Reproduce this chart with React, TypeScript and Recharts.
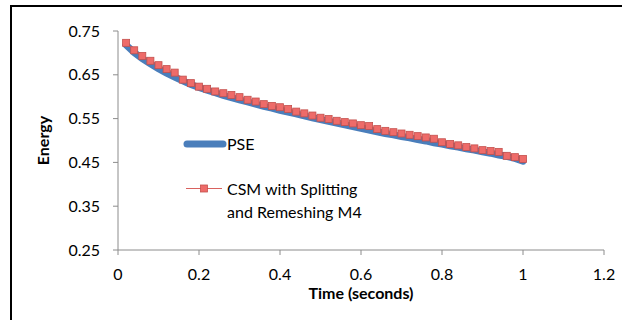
import { Legend, Line, LineChart, XAxis, YAxis } from "recharts";

const times = [
  0.02, 0.04, 0.06, 0.08, 0.1, 0.12, 0.14, 0.16, 0.18, 0.2,
  0.22, 0.24, 0.26, 0.28, 0.3, 0.32, 0.34, 0.36, 0.38, 0.4,
  0.42, 0.44, 0.46, 0.48, 0.5, 0.52, 0.54, 0.56, 0.58, 0.6,
  0.62, 0.64, 0.66, 0.68, 0.7, 0.72, 0.74, 0.76, 0.78, 0.8,
  0.82, 0.84, 0.86, 0.88, 0.9, 0.92, 0.94, 0.96, 0.98, 1.0
];

const pseEnergy = [
  0.718, 0.701, 0.687, 0.675, 0.664, 0.654, 0.645, 0.636, 0.628, 0.621,
  0.615, 0.609, 0.603, 0.598, 0.593, 0.588, 0.583, 0.578, 0.574, 0.569,
  0.565, 0.561, 0.556, 0.552, 0.548, 0.544, 0.54, 0.536, 0.532, 0.528,
  0.524, 0.52, 0.516, 0.513, 0.509, 0.506, 0.502, 0.499, 0.495, 0.492,
  0.488, 0.485, 0.481, 0.478, 0.474, 0.471, 0.467, 0.464, 0.459, 0.453
];

const csmEnergy = [
  0.723, 0.706, 0.693, 0.682, 0.672, 0.663, 0.655, 0.639, 0.631, 0.623,
  0.618, 0.612, 0.608, 0.604, 0.599, 0.593, 0.589, 0.583, 0.579, 0.576,
  0.572, 0.566, 0.562, 0.557, 0.552, 0.549, 0.545, 0.542, 0.539, 0.535,
  0.533, 0.526, 0.522, 0.519, 0.516, 0.513, 0.51, 0.507, 0.504, 0.496,
  0.492, 0.489, 0.485, 0.482, 0.478, 0.476, 0.474, 0.465, 0.462, 0.458
];

const yTicks = [0.25, 0.35, 0.45, 0.55, 0.65, 0.75];
const xTicks = [0, 0.2, 0.4, 0.6, 0.8, 1, 1.2];

const data = times.map((t, i) => ({ t, pse: pseEnergy[i], csm: csmEnergy[i] }));

const FONT = "Lato, 'Liberation Sans', sans-serif";
const BLUE = "#4A7EBB";
const RED_FILL = "#EE6B69";
const RED_LINE = "#D9625F";
const RED_EDGE = "#C4504D";
const AXIS = "#8c8c8c";

function SquareDot(props: any) {
  const { cx, cy } = props;
  if (cx == null || cy == null) return null;
  return (
    <rect
      x={cx - 3.5}
      y={cy - 3.5}
      width={7}
      height={7}
      fill={RED_FILL}
      stroke={RED_EDGE}
      strokeWidth={0.8}
    />
  );
}

function ChartLegend() {
  return (
    <div style={{ fontFamily: FONT, fontSize: 16, color: "#000", lineHeight: "23px", textAlign: "left" }}>
      <div style={{ display: "flex", alignItems: "center", height: 23 }}>
        <svg width={44} height={10}>
          <line x1={4} y1={5} x2={40} y2={5} stroke={BLUE} strokeWidth={7} strokeLinecap="round" />
        </svg>
        <span>PSE</span>
      </div>
      <div style={{ display: "flex", alignItems: "flex-start", marginTop: 22 }}>
        <svg width={44} height={23}>
          <line x1={3} y1={11.5} x2={39} y2={11.5} stroke={RED_LINE} strokeWidth={1} />
          <rect x={17.5} y={8} width={7} height={7} fill={RED_FILL} stroke={RED_EDGE} strokeWidth={0.8} />
        </svg>
        <span style={{ maxWidth: 150 }}>CSM with Splitting and Remeshing M4</span>
      </div>
    </div>
  );
}

export default function App() {
  return (
    <div
      style={{
        position: "absolute",
        left: 0,
        top: 0,
        width: 622,
        height: 320,
        background: "#fff",
        overflow: "hidden"
      }}
    >
      <div
        style={{
          position: "absolute",
          left: 10,
          top: 5,
          width: 700,
          height: 400,
          border: "2px solid #000"
        }}
      />
      <LineChart
        width={622}
        height={320}
        data={data}
        margin={{ top: 31, right: 18, left: 20, bottom: 40 }}
        style={{ position: "absolute", left: 0, top: 0 }}
      >
        <XAxis
          type="number"
          dataKey="t"
          domain={[0, 1.2]}
          ticks={xTicks}
          height={30}
          stroke={AXIS}
          tickSize={5}
          tickMargin={14}
          tick={{ fill: "#000", fontSize: 16, fontFamily: FONT }}
          label={{
            value: "Time (seconds)",
            position: "bottom",
            offset: 8,
            style: { fill: "#000", fontSize: 16, fontWeight: 700, fontFamily: FONT }
          }}
        />
        <YAxis
          type="number"
          domain={[0.25, 0.75]}
          ticks={yTicks}
          width={98}
          stroke={AXIS}
          tickSize={5}
          tickMargin={13}
          tickFormatter={(v: number) => v.toFixed(2)}
          tick={{ fill: "#000", fontSize: 16, fontFamily: FONT }}
          label={{
            value: "Energy",
            angle: -90,
            position: "insideLeft",
            offset: 23,
            style: { fill: "#000", fontSize: 16, fontWeight: 700, fontFamily: FONT, textAnchor: "middle" }
          }}
        />
        <Legend
          layout="horizontal"
          verticalAlign="middle"
          align="center"
          content={() => <ChartLegend />}
          wrapperStyle={{ left: 183, top: 132, width: 220 }}
        />
        <Line
          dataKey="pse"
          name="PSE"
          stroke={BLUE}
          strokeWidth={7}
          strokeLinecap="round"
          dot={false}
          isAnimationActive={false}
        />
        <Line
          dataKey="csm"
          name="CSM with Splitting and Remeshing M4"
          stroke={RED_LINE}
          strokeWidth={1}
          dot={<SquareDot />}
          isAnimationActive={false}
        />
      </LineChart>
    </div>
  );
}
